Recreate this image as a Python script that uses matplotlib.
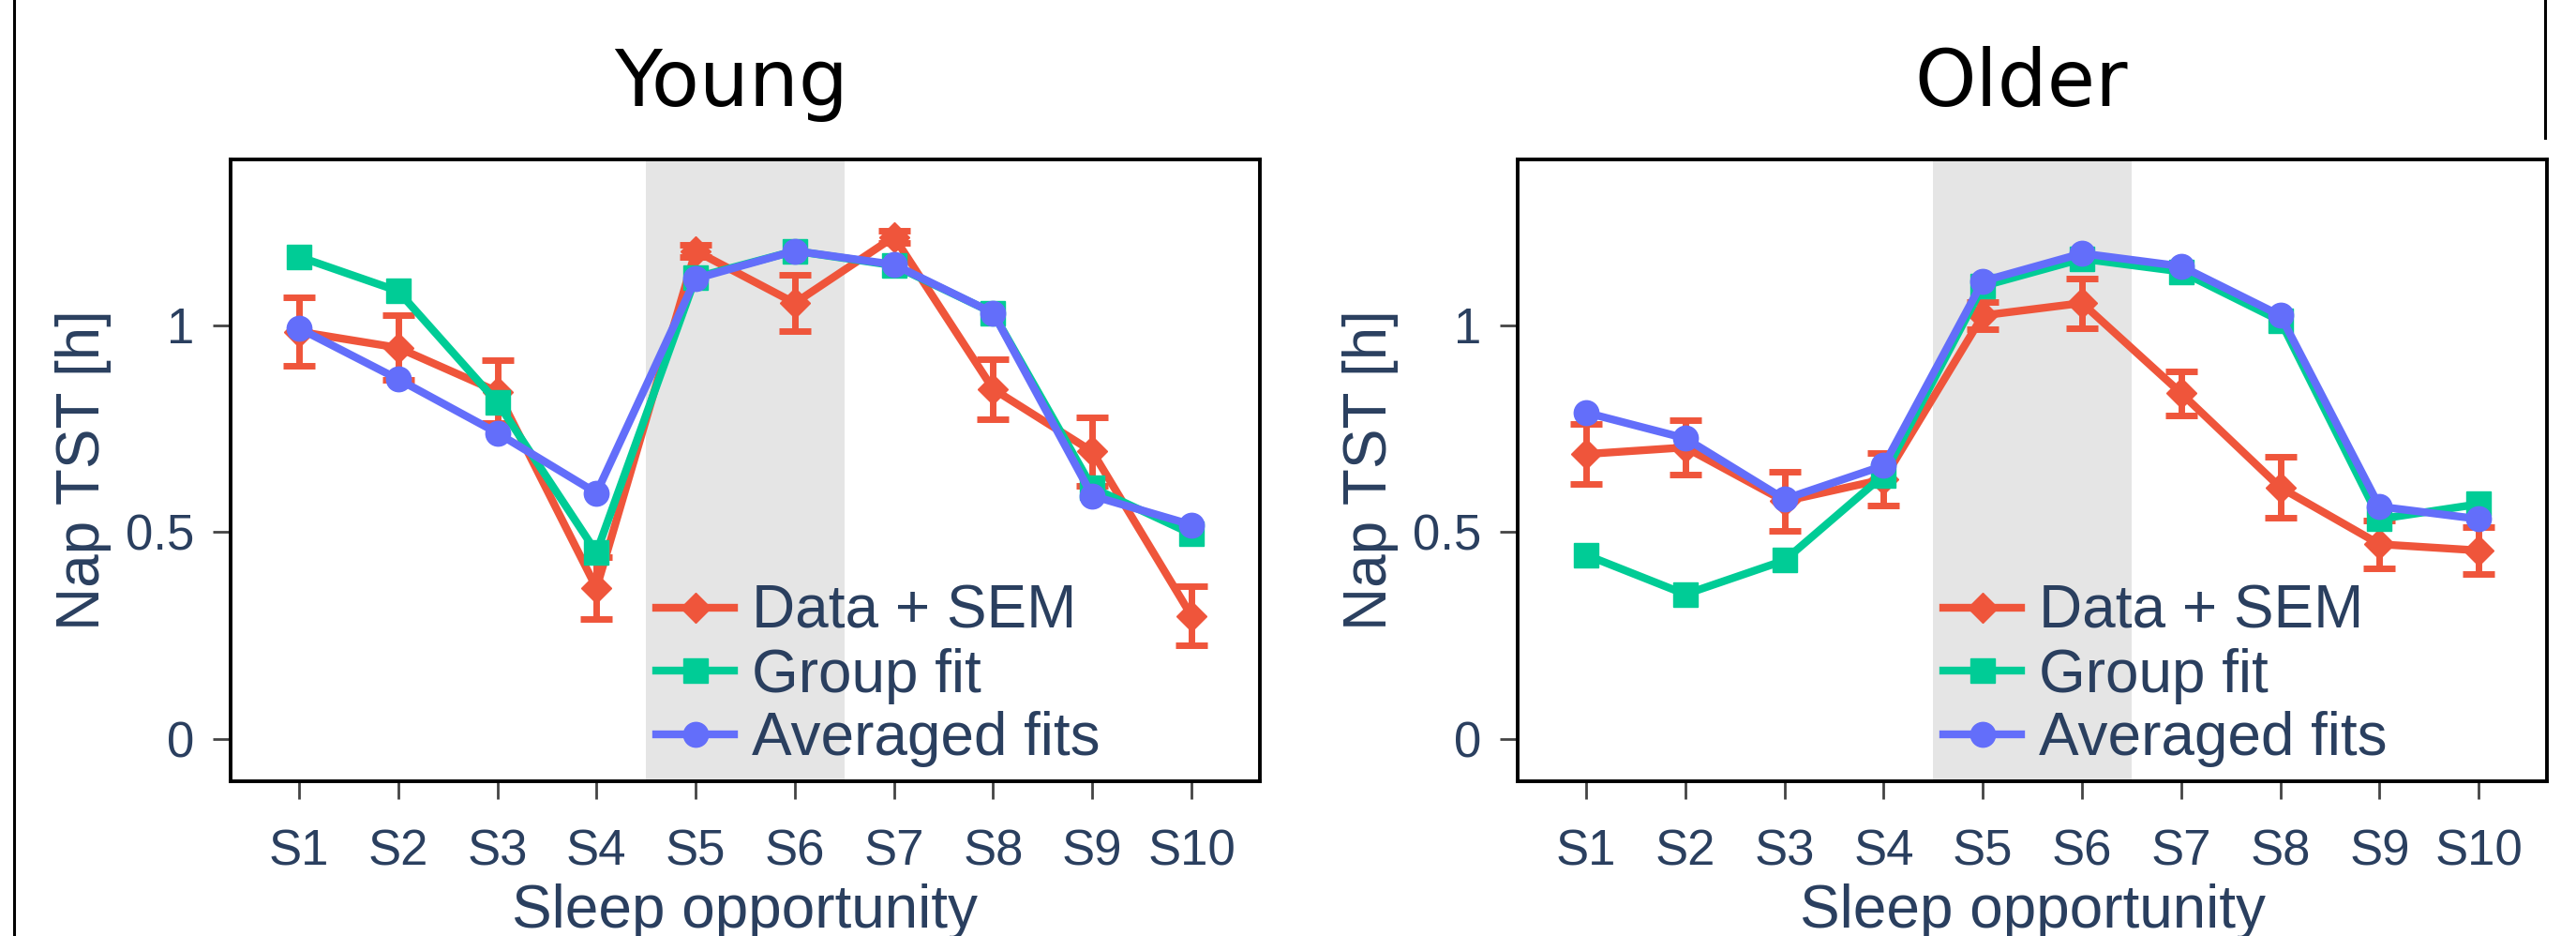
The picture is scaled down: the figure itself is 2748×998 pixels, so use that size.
import matplotlib
matplotlib.use('Agg')
import matplotlib.pyplot as plt
from matplotlib.lines import Line2D
import numpy as np

# sleep opportunities
sessions = ['S1', 'S2', 'S3', 'S4', 'S5', 'S6', 'S7', 'S8', 'S9', 'S10']

# Young group (nap TST in hours)
young_data = [0.985, 0.946, 0.84, 0.365, 1.18, 1.054, 1.214, 0.846, 0.695, 0.298]
young_sem = [0.082, 0.078, 0.077, 0.075, 0.015, 0.068, 0.015, 0.072, 0.083, 0.072]
young_group_fit = [1.166, 1.083, 0.814, 0.451, 1.116, 1.18, 1.145, 1.03, 0.608, 0.496]
young_avg_fits = [0.993, 0.870, 0.740, 0.595, 1.113, 1.18, 1.147, 1.03, 0.588, 0.518]

# Older group
older_data = [0.689, 0.705, 0.575, 0.628, 1.024, 1.054, 0.836, 0.608, 0.471, 0.456]
older_sem = [0.073, 0.065, 0.072, 0.064, 0.033, 0.06, 0.053, 0.074, 0.058, 0.057]
older_group_fit = [0.445, 0.35, 0.432, 0.638, 1.095, 1.161, 1.13, 1.011, 0.532, 0.568]
older_avg_fits = [0.789, 0.727, 0.58, 0.661, 1.107, 1.174, 1.143, 1.024, 0.562, 0.532]

# shaded sessions (S5-S6)
shade_start, shade_end = 4.5, 6.5

RED = '#EF553B'
GREEN = '#00CC96'
BLUE = '#636EFA'
TEXT = '#2a3f5f'

plt.rcParams['font.family'] = ['Liberation Sans', 'DejaVu Sans']


def draw_panel(ax, data, sem, group_fit, avg_fits):
    x = np.arange(1, len(sessions) + 1)
    ax.axvspan(shade_start, shade_end, color='#e5e5e5', lw=0, zorder=0)

    ax.errorbar(x, data, yerr=sem, fmt='none', ecolor=RED, elinewidth=5,
                capsize=12, capthick=5, zorder=2)
    ax.plot(x, data, color=RED, lw=6, marker='D', ms=16, label='Data + SEM', zorder=3)
    ax.plot(x, group_fit, color=GREEN, lw=6, marker='s', ms=19, label='Group fit', zorder=4)
    ax.plot(x, avg_fits, color=BLUE, lw=6, marker='o', ms=19, label='Averaged fits', zorder=5)

    ax.set_xlim(0.31, 10.69)
    ax.set_ylim(-0.102, 1.401)
    ax.set_xticks(x)
    ax.set_xticklabels(sessions)
    ax.set_yticks([0, 0.5, 1])
    ax.set_yticklabels(['0', '0.5', '1'])
    ax.tick_params(axis='both', direction='out', length=14, width=2, color='#444444',
                   labelsize=38, labelcolor=TEXT)
    ax.tick_params(axis='x', pad=22)
    ax.tick_params(axis='y', pad=14)
    for spine in ax.spines.values():
        spine.set_linewidth(2.8)
        spine.set_color('black')

    ax.set_xlabel('Sleep opportunity', fontsize=46, color=TEXT)
    ax.set_ylabel('Nap TST [h]', fontsize=46, color=TEXT)
    ax.xaxis.set_label_coords(0.5, -0.165)
    ax.yaxis.set_label_coords(-0.116, 0.5)

    leg = ax.legend(loc='upper left', bbox_to_anchor=(0.4135, 0.317), frameon=False,
                    fontsize=46, borderpad=0, borderaxespad=0, handlelength=1.3,
                    handletextpad=0.3, labelspacing=0.12, numpoints=1)
    for t in leg.get_texts():
        t.set_color(TEXT)


fig = plt.figure(figsize=(27.48, 9.98), dpi=100)
ax1 = fig.add_axes([0.0895, 0.1653, 0.3996, 0.6643])
ax2 = fig.add_axes([0.5892, 0.1653, 0.3996, 0.6643])

draw_panel(ax1, young_data, young_sem, young_group_fit, young_avg_fits)
draw_panel(ax2, older_data, older_sem, older_group_fit, older_avg_fits)

fig.text(0.2838, 0.8868, 'Young', fontsize=60, family='DejaVu Sans', ha='center', va='baseline')
fig.text(0.7846, 0.8868, 'Older', fontsize=60, family='DejaVu Sans', ha='center', va='baseline')

# panel frame lines from the original figure
fig.add_artist(Line2D([0.0055, 0.0055], [0, 1], color='black', lw=2.2, transform=fig.transFigure))
fig.add_artist(Line2D([0.988, 0.988], [0.853, 1], color='black', lw=2.2, transform=fig.transFigure))

plt.savefig('out.png', dpi=100)
plt.close()
